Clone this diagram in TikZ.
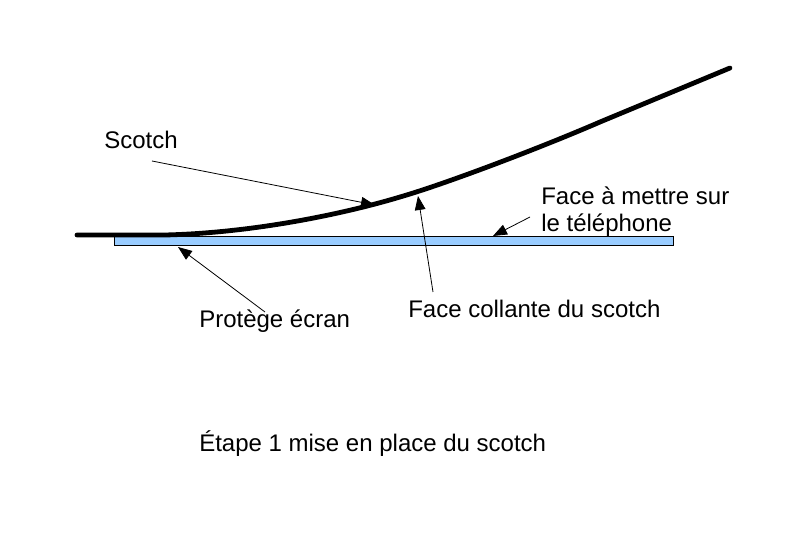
\documentclass[tikz,border=0pt]{standalone}
\usepackage{fontspec}
\setmainfont{Liberation Sans}
\usepackage{xcolor}
\usepackage{tikz}
\usetikzlibrary{arrows.meta}
\definecolor{ecranblue}{RGB}{153, 204, 255}

\begin{document}
\begin{tikzpicture}[
    x=0.75pt, y=-0.75pt,
    lbl/.style={anchor=base west, inner sep=0pt, font=\fontsize{18}{21.6}\selectfont},
    scotch/.style={line width=3.6pt, line cap=round},
    ecran/.style={draw=black, line width=0.75pt, fill=ecranblue},
    arr/.style={-{Triangle[length=10.5pt, width=8pt]}, line width=0.6pt}
]
\useasboundingbox (0,0) rectangle (794,559);

% protege ecran
\draw[ecran] (114,237) rectangle (673,246);

% scotch
\draw[scotch] (77,235) -- (165,235)
    .. controls (250,233) and (340,215) .. (400,197)
    .. controls (445,184) and (540,148) .. (600,122) -- (730,68);

% textes
\node[lbl] (scotchtxt)   at (104,149) {Scotch};
\node[lbl] (facemettre)  at (541,205) {Face à mettre sur};
\node[lbl] (telephone)   at (541,232) {le téléphone};
\node[lbl] (protegetxt)  at (199,328) {Protège écran};
\node[lbl] (collantetxt) at (408,318) {Face collante du scotch};
\node[lbl] (etape)       at (199,452) {Étape 1 mise en place du scotch};

% extremites des fleches
\coordinate (s1) at (152,161);  \coordinate (s2) at (375,205);
\coordinate (c1) at (433,292);  \coordinate (c2) at (418,196);
\coordinate (m1) at (530,217);  \coordinate (m2) at (493,236);
\coordinate (p1) at (265,312);  \coordinate (p2) at (178,247);

\draw[arr] (s1) -- (s2);
\draw[arr] (c1) -- (c2);
\draw[arr] (m1) -- (m2);
\draw[arr] (p1) -- (p2);

\end{tikzpicture}
\end{document}
